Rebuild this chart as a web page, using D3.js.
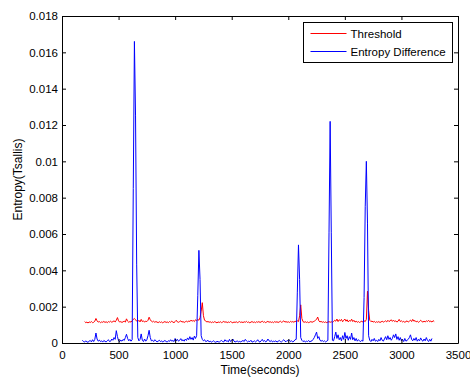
<!DOCTYPE html>
<html>
<head>
<meta charset="utf-8">
<script src="https://cdn.jsdelivr.net/npm/d3@7"></script>
<style>
  body { margin: 0; background: #fff; }
  text { font-family: "Liberation Sans", Arial, sans-serif; fill: #000; }
</style>
</head>
<body>
<div id="chart"></div>
<script>
// values are in units of 1e-5 (entropy), sampled every 10 s
var unit = 1e-5
var step = 10

var thresholdStart = 200
var threshold = [
  118,112,115,110,116,113,118,112,114,120,
  135,122,115,118,112,116,114,119,113,117,
  112,118,115,120,114,118,122,116,125,140,
  122,115,118,113,117,120,115,133,120,114,
  118,115,122,130,135,128,120,118,125,116,
  130,118,122,115,120,118,125,142,128,120,
  116,120,114,118,115,112,117,113,116,111,
  115,118,113,116,112,118,114,120,115,112,
  118,125,116,114,118,122,115,118,113,117,
  120,115,122,118,126,120,124,118,128,122,
  130,125,140,175,222,150,125,122,115,119,
  114,117,112,116,113,118,114,111,116,113,
  117,112,115,119,114,117,112,116,113,118,
  114,111,116,113,117,112,115,118,113,116,
  112,117,114,119,113,116,111,115,118,113,
  116,112,117,114,118,113,116,120,114,117,
  112,116,119,114,117,113,116,112,118,114,
  117,113,116,120,114,117,122,115,118,114,
  117,113,119,115,118,114,120,117,122,118,
  150,210,135,118,114,117,113,116,112,115,
  118,114,117,120,125,130,143,122,116,119,
  114,117,113,116,112,115,118,114,117,113,
  118,125,120,132,118,128,122,130,117,125,
  132,120,128,116,124,120,131,118,125,115,
  120,114,118,113,117,120,115,122,118,130,
  285,180,125,118,121,115,119,113,117,114,
  118,113,116,120,115,118,122,116,125,118,
  122,128,119,126,118,122,115,120,130,118,
  122,116,119,114,118,122,115,120,126,118,
  130,120,124,116,120,114,118,125,119,115,
  120,116,122,118,125,117,121,115,123,118
]

var entropyStart = 180
var entropyDiff = [
  15,8,
  5,12,6,4,10,14,6,18,8,20,
  55,22,10,16,8,12,5,14,9,6,
  12,18,8,10,22,15,30,20,68,35,
  12,8,16,10,20,14,30,48,25,12,
  20,10,18,850,1660,1250,430,30,12,20,
  50,15,8,22,10,18,40,70,30,12,
  15,8,18,12,6,10,15,8,12,5,
  10,14,8,6,12,9,18,10,14,8,
  25,12,20,10,15,24,12,18,10,22,
  14,28,18,35,20,30,16,38,25,40,
  260,510,350,40,20,12,18,8,10,15,
  6,10,5,8,12,6,4,9,7,5,
  10,14,8,6,18,10,12,6,20,8,
  14,22,10,6,8,12,5,9,6,10,
  14,8,20,12,6,10,8,15,5,7,
  12,6,10,18,8,5,12,20,9,14,
  6,10,22,12,8,14,6,10,8,12,
  5,9,14,8,6,12,18,10,7,14,
  10,16,8,12,6,10,18,20,280,540,
  350,30,15,8,12,6,10,8,14,6,
  10,12,20,30,45,60,25,35,15,10,
  14,8,12,6,10,15,610,1220,610,15,
  12,35,60,25,45,18,30,12,40,20,
  58,25,40,15,35,20,55,18,30,12,
  25,10,18,12,8,15,10,250,750,1000,
  660,40,15,8,20,12,25,10,15,8,
  20,12,30,15,10,22,35,18,40,20,
  30,15,25,45,30,50,20,35,15,30,
  12,20,8,25,10,15,20,30,45,20,
  12,25,15,30,10,20,12,28,15,10,
  22,12,30,15,8,20,10,25
]

var xTicks = [0, 500, 1000, 1500, 2000, 2500, 3000, 3500]
var yTicks = [0, 0.002, 0.004, 0.006, 0.008, 0.01, 0.012, 0.014, 0.016, 0.018]
var seriesNames = ["Threshold", "Entropy Difference"]
var seriesColors = ["#ff0000", "#0000ff"]

var W = 470, H = 377
var margin = {top: 16, right: 12, bottom: 34, left: 62}
var width = W - margin.left - margin.right
var height = H - margin.top - margin.bottom

var svg = d3.select("#chart").append("svg")
    .attr("width", W)
    .attr("height", H)

var g = svg.append("g")
    .attr("transform", "translate(" + margin.left + "," + margin.top + ")")

var x = d3.scaleLinear().domain([0, 3500]).range([0, width])
var y = d3.scaleLinear().domain([0, 0.018]).range([height, 0])

function toPoints(start, arr) {
    return arr.map(function(v, i) { return {t: start + i * step, v: v * unit} })
}

var line = d3.line()
    .x(function(d) { return x(d.t) })
    .y(function(d) { return y(d.v) })

// plot lines (threshold first, entropy on top)
g.append("path")
    .datum(toPoints(thresholdStart, threshold))
    .attr("d", line)
    .attr("fill", "none")
    .attr("stroke", seriesColors[0])
    .attr("stroke-width", 1)

g.append("path")
    .datum(toPoints(entropyStart, entropyDiff))
    .attr("d", line)
    .attr("fill", "none")
    .attr("stroke", seriesColors[1])
    .attr("stroke-width", 1)

// axes, ticks inside on all four sides
var fmtY = function(v) { return v === 0 ? "0" : String(+v.toFixed(3)) }

g.append("g")
    .attr("transform", "translate(0," + height + ")")
    .call(d3.axisBottom(x).tickValues(xTicks).tickSizeInner(-4).tickSizeOuter(0).tickPadding(8).tickFormat(d3.format("d")))
g.append("g")
    .call(d3.axisTop(x).tickValues(xTicks).tickSizeInner(-4).tickSizeOuter(0).tickFormat(""))
g.append("g")
    .call(d3.axisLeft(y).tickValues(yTicks).tickSizeInner(-4).tickSizeOuter(0).tickPadding(4).tickFormat(fmtY))
g.append("g")
    .attr("transform", "translate(" + width + ",0)")
    .call(d3.axisRight(y).tickValues(yTicks).tickSizeInner(-4).tickSizeOuter(0).tickFormat(""))

g.selectAll(".domain").attr("stroke", "#000")
g.selectAll(".tick line").attr("stroke", "#000")
g.selectAll(".tick text")
    .style("font-size", "11.5px")
    .style("font-family", "'Liberation Sans', Arial, sans-serif")
    .attr("fill", "#000")

// axis labels
svg.append("text")
    .attr("x", margin.left + width / 2)
    .attr("y", 374)
    .attr("text-anchor", "middle")
    .style("font-size", "12px")
    .text("Time(seconds)")

svg.append("text")
    .attr("transform", "translate(22," + (margin.top + height / 2) + ") rotate(-90)")
    .attr("text-anchor", "middle")
    .style("font-size", "12px")
    .text("Entropy(Tsallis)")

// legend
var legend = svg.append("g").attr("transform", "translate(303.5,22.5)")
legend.append("rect")
    .attr("width", 149)
    .attr("height", 40)
    .attr("fill", "#fff")
    .attr("stroke", "#000")

seriesNames.forEach(function(name, i) {
    var ly = 11 + i * 18
    legend.append("line")
        .attr("x1", 7).attr("x2", 43)
        .attr("y1", ly).attr("y2", ly)
        .attr("stroke", seriesColors[i])
    legend.append("text")
        .attr("x", 47)
        .attr("y", ly + 4)
        .style("font-size", "11.5px")
        .text(name)
})
</script>
</body>
</html>
